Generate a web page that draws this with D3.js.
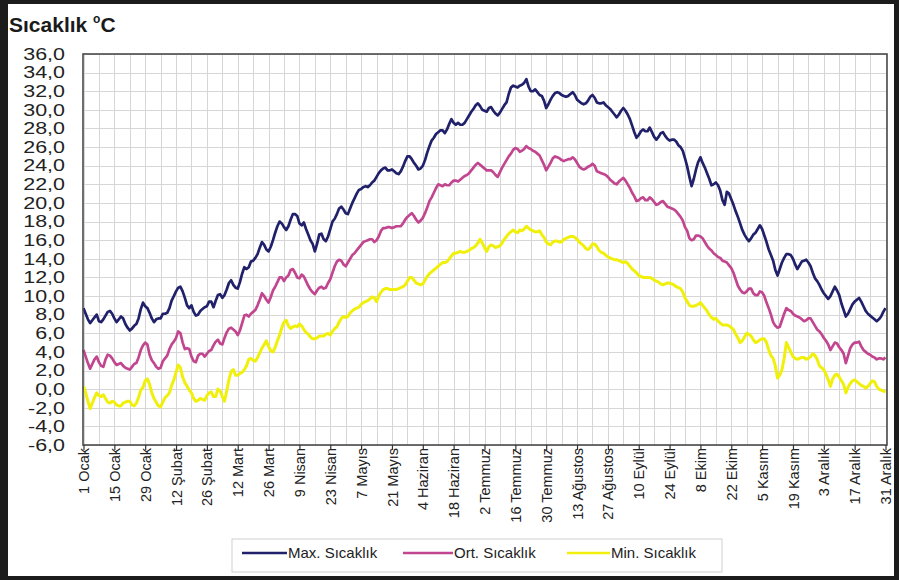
<!DOCTYPE html>
<html><head><meta charset="utf-8">
<script src="https://cdn.jsdelivr.net/npm/d3@7"></script>
<style>
html,body{margin:0;padding:0;background:#fff;}
svg{display:block;font-family:"Liberation Sans",Arial,sans-serif;}
</style></head><body>
<svg id="c" width="899" height="580"></svg>
<script>
const yTicks = [-6,-4,-2,0,2,4,6,8,10,12,14,16,18,20,22,24,26,28,30,32,34,36];
const xTickLabels = ["1 Ocak","15 Ocak","29 Ocak","12 Şubat","26 Şubat","12 Mart","26 Mart","9 Nisan","23 Nisan","7 Mayıs","21 Mayıs","4 Haziran","18 Haziran","2 Temmuz","16 Temmuz","30 Temmuz","13 Ağustos","27 Ağustos","10 Eylül","24 Eylül","8 Ekim","22 Ekim","5 Kasım","19 Kasım","3 Aralık","17 Aralık","31 Aralık"];
const seriesNames = ["Max. Sıcaklık","Ort. Sıcaklık","Min. Sıcaklık"];

const maxTemp = [
8.7,8.1,7.5,7.1,7.4,7.7,8.0,7.3,7.2,7.5,
7.9,8.3,8.4,8.1,7.6,7.2,7.5,7.8,7.6,7.0,
6.6,6.3,6.5,6.8,7.0,7.6,8.6,9.3,8.9,8.7,
8.2,7.6,7.2,7.5,7.6,7.6,8.1,8.1,8.2,8.7,
9.5,10.0,10.5,10.9,11.0,10.5,9.8,9.0,8.7,9.0,
8.3,7.9,8.0,8.4,8.6,8.8,8.9,9.4,9.4,8.8,
9.5,10.1,10.2,9.8,10.1,10.7,11.4,11.7,11.2,10.9,
10.8,11.5,12.4,13.1,12.9,13.1,13.7,13.8,14.1,14.5,
15.2,15.8,15.5,15.0,14.8,15.3,16.0,16.8,17.5,18.0,
17.8,17.4,17.1,17.5,18.2,18.8,18.8,18.6,17.8,17.6,
17.9,17.2,16.6,16.0,15.6,14.8,15.6,16.6,16.7,16.1,
15.9,16.4,17.2,18.0,18.3,18.8,19.4,19.6,19.3,18.9,
18.8,19.4,20.0,20.5,21.0,21.4,21.5,21.7,21.8,21.7,
21.9,22.2,22.4,22.8,23.2,23.5,23.7,23.8,23.5,23.5,
23.6,23.4,23.2,23.1,23.4,23.9,24.5,25.0,25.0,24.7,
24.3,24.0,23.6,23.7,24.0,24.6,25.4,26.1,26.7,27.0,
27.4,27.6,27.8,27.8,27.5,27.9,28.5,29.0,28.6,28.4,
28.6,28.4,28.4,28.6,29.0,29.4,29.8,30.1,30.5,30.7,
30.4,30.0,29.9,29.8,30.2,30.3,29.9,29.6,29.4,29.7,
30.1,30.5,30.8,31.7,32.4,32.6,32.5,32.4,32.6,32.7,
32.9,33.3,32.5,32.0,32.0,32.2,31.9,31.6,31.5,31.0,
30.2,30.6,31.1,31.5,31.8,31.9,31.8,31.6,31.5,31.4,
31.5,31.7,31.9,31.6,31.1,30.9,30.7,30.6,30.7,31.0,
31.4,31.6,31.3,30.8,30.7,30.7,30.8,30.5,30.3,30.1,
29.8,29.5,29.2,29.5,29.9,30.2,29.9,29.5,29.0,28.3,
27.6,27.0,27.3,27.7,27.9,27.7,27.7,28.1,27.6,27.1,
26.8,27.1,27.5,27.6,27.2,26.9,26.7,26.8,26.8,26.6,
26.2,26.0,25.6,24.8,23.9,22.8,21.8,22.6,23.6,24.4,
24.9,24.3,23.8,23.2,22.6,21.9,22.0,22.2,21.9,21.3,
20.3,19.8,21.2,21.0,20.4,19.8,19.1,18.5,17.8,17.1,
16.6,16.2,15.9,16.2,16.6,16.8,17.2,17.6,17.2,16.5,
15.8,15.0,14.4,13.8,12.8,12.2,12.9,13.6,14.1,14.5,
14.5,14.4,14.0,13.4,12.9,13.3,13.7,13.8,13.9,13.6,
13.2,12.5,11.9,11.6,11.2,10.7,10.3,10.0,9.7,10.0,
10.5,11.0,10.6,10.1,9.2,8.5,7.8,8.1,8.6,9.1,
9.4,9.6,9.8,9.4,8.9,8.4,8.1,7.9,7.7,7.5,
7.3,7.5,7.8,8.3,8.7];

const ortTemp = [
4.2,3.5,2.8,2.2,2.7,3.2,3.5,2.9,2.5,2.4,
3.2,3.7,3.6,3.3,2.9,2.6,2.7,2.8,2.5,2.3,
2.2,2.1,2.4,2.7,2.8,3.4,4.2,4.7,5.0,4.8,
3.7,3.1,2.8,2.4,2.2,2.3,3.0,3.3,3.6,4.3,
4.8,5.1,5.5,6.2,6.0,5.0,4.3,4.4,4.3,3.5,
3.0,2.9,3.6,3.8,3.8,3.5,3.8,4.1,4.2,4.7,
5.1,5.3,4.9,4.8,5.5,6.1,6.5,6.6,6.4,6.2,
5.8,6.3,7.1,7.9,8.0,7.8,8.1,8.3,8.5,9.0,
9.6,10.3,10.0,9.6,9.3,9.9,10.6,11.0,11.5,12.0,
12.0,11.6,12.0,12.2,12.8,12.9,12.5,12.0,11.9,12.3,
12.1,11.6,11.1,10.7,10.4,10.2,10.6,10.9,11.0,10.8,
10.9,11.4,11.8,12.5,13.2,13.7,13.9,13.8,13.4,13.2,
13.6,14.0,14.4,14.6,14.9,15.2,15.5,15.8,15.9,16.0,
16.1,16.1,15.8,16.0,16.4,17.0,17.3,17.3,17.4,17.4,
17.3,17.4,17.5,17.5,17.5,17.8,18.2,18.5,18.7,18.9,
18.6,18.2,17.9,18.1,18.4,18.9,19.5,20.2,20.6,21.1,
21.6,22.0,21.9,21.8,22.0,21.9,21.9,22.2,22.4,22.4,
22.3,22.5,22.7,22.9,23.0,23.2,23.5,23.8,24.1,24.3,
24.1,23.9,23.7,23.5,23.5,23.5,23.3,23.0,22.8,23.3,
23.8,24.2,24.6,25.0,25.3,25.7,25.9,25.8,25.5,25.6,
25.8,26.1,25.9,25.8,25.6,25.5,25.3,25.1,24.6,24.1,
23.5,23.9,24.3,24.8,25.0,24.9,24.8,24.6,24.5,24.6,
24.7,24.7,24.9,24.7,24.3,23.9,23.7,23.6,23.7,23.9,
24.0,24.2,24.0,23.4,23.3,23.2,23.1,23.0,22.8,22.5,
22.3,22.1,22.0,22.3,22.5,22.7,22.4,22.0,21.6,21.1,
20.7,20.2,20.3,20.5,20.6,20.3,20.3,20.6,20.4,20.1,
19.8,19.9,20.1,20.2,19.9,19.6,19.5,19.4,19.3,19.1,
18.8,18.5,18.1,17.4,17.0,16.2,16.0,16.1,16.5,16.5,
16.4,16.2,15.8,15.4,15.1,14.9,14.6,14.4,14.2,14.1,
13.8,13.7,13.6,13.3,13.0,12.5,11.8,11.1,10.7,10.4,
10.3,10.5,10.8,10.8,10.3,10.1,10.1,10.5,10.4,10.0,
9.3,8.7,8.0,7.2,6.8,6.6,6.7,7.4,8.1,8.7,
8.5,8.4,8.1,7.9,7.8,7.7,7.5,7.3,7.4,7.6,
7.6,7.2,6.8,6.4,6.2,5.9,5.5,5.2,4.8,4.2,
4.6,5.0,4.9,4.5,4.2,3.8,2.8,3.6,4.4,4.8,
5.0,5.0,5.1,4.6,4.2,4.0,3.8,3.7,3.5,3.4,
3.2,3.3,3.3,3.2,3.4];

const minTemp = [
0.3,-0.4,-1.3,-2.1,-1.5,-0.9,-0.4,-0.7,-0.8,-0.6,
-1.0,-1.4,-1.5,-1.3,-1.4,-1.7,-1.8,-1.8,-1.5,-1.4,
-1.3,-1.3,-1.7,-1.8,-1.5,-0.9,-0.1,0.2,0.9,1.1,
0.5,-0.4,-1.0,-1.4,-1.8,-1.9,-1.4,-0.9,-0.7,-0.4,
0.4,1.0,1.8,2.6,2.3,1.3,0.7,0.3,-0.1,-0.4,
-1.0,-1.3,-1.2,-1.0,-1.1,-1.2,-0.7,-0.4,-0.3,-0.8,
-0.8,0.0,-0.2,-0.8,-1.3,-0.2,1.0,1.9,2.1,1.5,
1.5,1.7,1.8,2.1,2.5,3.2,3.3,3.1,3.0,3.4,
3.9,4.4,4.8,5.2,4.6,4.1,4.0,4.5,5.2,5.8,
6.6,7.2,7.4,6.8,6.5,6.7,6.8,6.7,7.0,6.8,
6.4,6.1,5.9,5.6,5.4,5.4,5.5,5.7,5.7,5.7,
5.9,6.0,5.8,6.2,6.5,6.7,7.2,7.6,7.8,7.7,
7.8,8.2,8.4,8.6,8.7,8.8,9.1,9.3,9.4,9.5,
9.7,9.9,9.8,9.4,10.0,10.4,10.7,10.8,10.8,10.7,
10.7,10.7,10.7,10.8,10.9,11.0,11.2,11.6,12.0,12.0,
11.7,11.4,11.3,11.2,11.3,11.7,12.1,12.4,12.6,12.8,
13.0,13.2,13.4,13.6,13.6,13.7,14.0,14.3,14.6,14.6,
14.7,14.8,14.7,14.7,14.8,14.9,15.1,15.2,15.4,15.7,
16.1,15.7,15.2,14.8,15.3,15.5,15.4,15.2,15.3,15.4,
15.7,16.1,16.4,16.7,16.9,17.1,16.9,16.8,17.1,17.0,
17.2,17.5,17.3,17.1,17.0,16.9,16.9,17.0,16.6,16.3,
15.8,15.6,15.5,15.8,15.9,15.9,15.8,15.8,16.1,16.2,
16.3,16.4,16.4,16.3,16.1,15.8,15.6,15.4,15.1,15.0,
15.2,15.6,15.6,15.3,14.9,14.7,14.6,14.4,14.2,14.1,
14.0,13.9,13.9,13.8,13.7,13.6,13.7,13.5,13.2,12.9,
12.7,12.5,12.2,12.1,12.0,12.0,12.0,12.0,11.9,11.7,
11.6,11.5,11.3,11.2,11.3,11.4,11.4,11.3,11.2,11.0,
10.9,10.8,10.4,9.8,9.4,9.0,8.9,8.9,9.0,9.1,
9.3,9.0,8.7,8.4,8.0,7.7,7.5,7.6,7.3,7.1,
6.9,6.9,6.9,6.8,6.6,6.4,5.9,5.5,5.0,5.2,
5.6,6.0,5.9,5.7,5.3,5.0,5.1,5.3,5.4,5.4,
5.0,4.2,3.6,3.3,2.5,1.2,1.5,2.1,3.3,5.0,
4.5,4.0,3.5,3.3,3.2,3.3,3.4,3.4,3.2,3.3,
3.5,3.8,3.6,3.2,2.5,2.3,2.1,1.6,1.0,0.3,
1.1,1.5,1.6,1.3,0.9,0.5,-0.4,0.2,0.6,0.9,
1.0,0.8,0.6,0.4,0.3,0.1,0.3,0.6,0.9,0.8,
0.3,0.0,-0.1,-0.2,-0.3];

const seriesColors = ["#20206b","#c2468f","#f0f00c"];

const svg = d3.select("#c");
const W = 899, H = 580;
const P = {l:83, r:887, t:54, b:445};

// outer dark frame
svg.append("rect").attr("x",0).attr("y",0).attr("width",W).attr("height",H).attr("fill","#1c1c1c");
svg.append("rect").attr("x",8).attr("y",4).attr("width",886).attr("height",572).attr("fill","#fff");

const x = d3.scaleLinear().domain([0,364]).range([P.l+0.5, P.r-1.5]);
const y = d3.scaleLinear().domain([-6,36]).range([P.b, P.t]);

// grid
const grid = svg.append("g");
grid.selectAll("line.v").data(d3.range(0,365,7)).join("line")
  .attr("x1",d=>Math.round(x(d))+0.5).attr("x2",d=>Math.round(x(d))+0.5)
  .attr("y1",P.t).attr("y2",P.b).attr("stroke","#d6d6d6").attr("stroke-width",1);
grid.selectAll("line.h").data(yTicks).join("line")
  .attr("x1",P.l).attr("x2",P.r)
  .attr("y1",d=>Math.round(y(d))+0.5).attr("y2",d=>Math.round(y(d))+0.5)
  .attr("stroke","#d6d6d6").attr("stroke-width",1);

// series lines
const line = d3.line().x((d,i)=>x(i)).y(d=>y(d));
const seriesData = [maxTemp, ortTemp, minTemp];
[2,1,0].forEach(k=>{
  svg.append("path").datum(seriesData[k]).attr("d",line)
    .attr("fill","none").attr("stroke",seriesColors[k])
    .attr("stroke-width", k===2 ? 3 : 2.7).attr("stroke-linejoin","round");
});

// plot frame
svg.append("rect").attr("x",P.l).attr("y",P.t).attr("width",P.r-P.l).attr("height",P.b-P.t)
  .attr("fill","none").attr("stroke","#4a4a4a").attr("stroke-width",1.6);

// x axis
const xTickDays = xTickLabels.map((_,i)=>i*14);
const xAxis = d3.axisBottom(x).tickValues(xTickDays)
  .tickFormat((d,i)=>xTickLabels[i]).tickSize(5).tickSizeOuter(0);
const gx = svg.append("g").attr("transform",`translate(0,${P.b})`).call(xAxis);
gx.select(".domain").remove();
gx.selectAll(".tick line").attr("stroke","#333").attr("stroke-width",1.2);
gx.selectAll(".tick text")
  .attr("transform","rotate(-90)")
  .attr("x",-3).attr("y",0).attr("dy","0.35em")
  .attr("text-anchor","end")
  .attr("font-size","14.5px").attr("fill","#222")
  .style("font-family","'Liberation Sans',Arial,sans-serif");

// y axis: labels sit tightly stacked as in the reference; slightly
// smaller font stretched horizontally so the boxes do not collide
const yAxis = d3.axisLeft(y).tickValues(yTicks)
  .tickFormat(d=>d.toFixed(1).replace(".",",")).tickSize(0).tickPadding(18);
const gy = svg.append("g").attr("transform",`translate(${P.l},0)`).call(yAxis);
gy.select(".domain").remove();
gy.selectAll(".tick text").attr("font-size","16.5px").attr("fill","#222")
  .style("font-family","'Liberation Sans',Arial,sans-serif")
  .each(function(){
    const n = this.getComputedTextLength();
    d3.select(this).attr("textLength", n*1.3).attr("lengthAdjust","spacingAndGlyphs");
  });

// title
const t = svg.append("text").attr("x",9).attr("y",32).attr("fill","#1a1a1a")
  .attr("font-weight","bold").attr("font-size","21px");
t.append("tspan").text("Sıcaklık ");
t.append("tspan").attr("font-size","12px").attr("dy",-9).text("o");
t.append("tspan").attr("dy",9).text("C");

// legend
const lg = svg.append("g");
lg.append("rect").attr("x",232).attr("y",539).attr("width",490).attr("height",33)
  .attr("fill","#fff").attr("stroke","#cfcfcf").attr("stroke-width",1);
const legendPos = [{x1:242,x2:287},{x1:403,x2:453},{x1:567,x2:610}];
seriesNames.forEach((n,i)=>{
  lg.append("line").attr("x1",legendPos[i].x1).attr("x2",legendPos[i].x2)
    .attr("y1",553).attr("y2",553).attr("stroke",seriesColors[i]).attr("stroke-width",2.5);
  lg.append("text").attr("x",legendPos[i].x2+1).attr("y",553).attr("dy","0.35em")
    .attr("font-size","15px").attr("fill","#222").text(n);
});
</script>
</body></html>
